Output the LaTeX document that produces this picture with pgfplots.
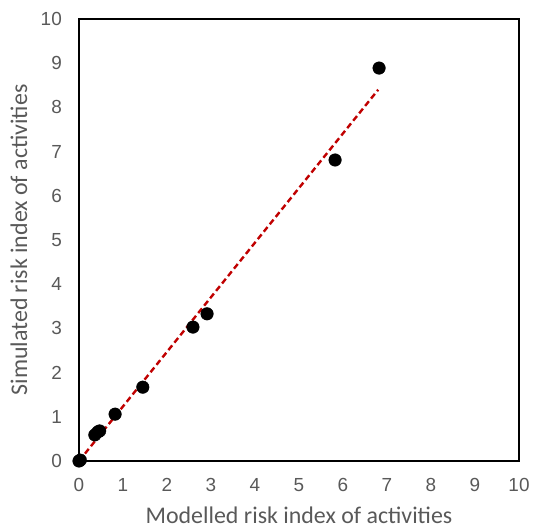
\documentclass[border=0pt]{standalone}
\usepackage{pgfplots}
\pgfplotsset{compat=1.18}
\usepackage{fontspec}
\setmainfont{Liberation Sans}
\newfontfamily\labfont{Carlito}
\definecolor{txtgray}{HTML}{595959}
\definecolor{trend}{HTML}{C00000}
\begin{document}
\begin{tikzpicture}
\begin{axis}[
  scale only axis,
  width=440bp, height=442bp,
  xmin=0, xmax=10, ymin=0, ymax=10,
  xtick={0,...,10}, ytick={0,...,10},
  major tick length=0pt,
  axis line style={line width=2bp, black},
  /pgf/number format/assume math mode=true,
  tick label style={font=\fontsize{19}{22}\selectfont, text=txtgray, inner sep=0pt},
  xticklabel style={anchor=north, yshift=-17bp},
  yticklabel style={anchor=east, xshift=-17bp},
  xlabel={Modelled risk index of activities},
  ylabel={Simulated risk index of activities},
  label style={font=\labfont\fontsize{24}{27}\selectfont, text=txtgray, inner sep=0pt},
  xlabel style={at={(axis description cs:0.5,-0.1403)}, anchor=base},
  ylabel style={at={(axis description cs:-0.118,0.5)}, anchor=base, rotate=0},
  clip=false,
]
\coordinate (O) at (rel axis cs:0,0);
\addplot[trend, line width=2.4bp, dash pattern=on 6bp off 3.5bp] coordinates {(0,0) (6.8,8.4)};
\addplot[only marks, mark=*, mark size=6.3bp, black] coordinates {
(0,0) (0.03,0.02) (0.36,0.59) (0.43,0.66) (0.47,0.68) (0.82,1.06) (1.45,1.67)
(2.59,3.03) (2.91,3.33) (5.82,6.81) (6.82,8.89)
};
\end{axis}
\pgfresetboundingbox
\path ([shift={(-79bp,-68bp)}]O) rectangle ([shift={(456bp,461bp)}]O);
\end{tikzpicture}
\end{document}
